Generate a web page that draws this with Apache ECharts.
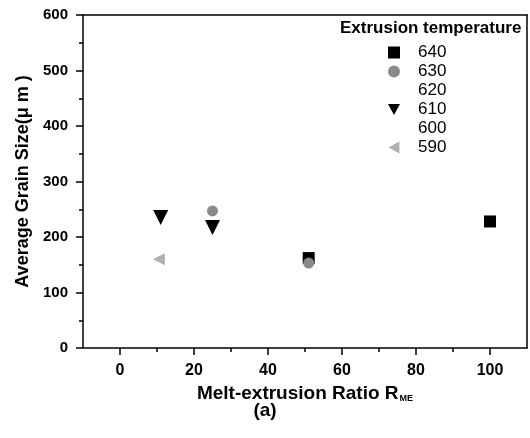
<!DOCTYPE html>
<html><head><meta charset="utf-8">
<script src="https://cdn.jsdelivr.net/npm/echarts@6/dist/echarts.min.js"></script>
<style>html,body{margin:0;padding:0;background:#fff}#c{width:530px;height:438px}</style>
</head><body><div id="c"></div>
<script>
const temps = ['640','630','620','610','600','590'];
const s640 = [[100,228],[51,162]];
const s630 = [[25,247],[51,153]];
const s620 = [];
const s610 = [[11,235],[25,217]];
const s600 = [];
const s590 = [[10.5,160]];
const xMajor = [0,20,40,60,80,100];
const xMinor = [10,30,50,70,90];

const F = 'Liberation Sans, Arial, sans-serif';
const DOWN = 'path://M0,0L10,0L5,9Z';
const LEFT = 'path://M9,0L9,10L0,5Z';
const chart = echarts.init(document.getElementById('c'));
function ser(name, data, symbol, size, color){
  return {name, type:'scatter', data, symbol, symbolSize:size,
    itemStyle:{color, opacity:1}, xAxisIndex:0, yAxisIndex:0};
}
const icons = {'640':'rect','630':'circle','620':'circle','610':DOWN,'600':'circle','590':LEFT};
chart.setOption({
  animation:false,
  grid:{left:83, right:3, top:15, bottom:90, containLabel:false},
  graphic:[
    {type:'text', left:'center', top:401, style:{text:'(a)', font:'bold 19px '+F, fill:'#000'}},
    {type:'text', left:340, top:20, style:{text:'Extrusion temperature', font:'bold 17px '+F, fill:'#000'}}
  ],
  legend:{orient:'vertical', left:383, top:39, itemWidth:12, itemHeight:12, itemGap:2,
    textStyle:{fontFamily:F, fontSize:17, lineHeight:17, color:'#000', padding:[0,0,0,13]},
    data:temps.map(t=>({name:t, icon:icons[t]}))},
  xAxis:[
    {type:'value', position:'bottom', min:-10, max:110,
     name:'{a|Melt-extrusion Ratio R}{s|ME}', nameLocation:'middle', nameGap:33,
     nameTextStyle:{rich:{a:{fontFamily:F, fontWeight:'bold', fontSize:19, color:'#000'},
                          s:{fontFamily:F, fontWeight:'bold', fontSize:9, color:'#000', verticalAlign:'bottom', padding:[10,0,0,1]}}},
     axisLine:{lineStyle:{color:'#000', width:1.5}},
     axisTick:{show:true, length:7, customValues:xMajor, lineStyle:{width:1.5, color:'#000'}},
     axisLabel:{customValues:xMajor, fontFamily:F, fontWeight:'bold', fontSize:16, color:'#000', margin:15},
     splitLine:{show:false}},
    {type:'value', position:'bottom', min:-10, max:110,
     axisLine:{show:false},
     axisTick:{show:true, length:4, customValues:xMinor, lineStyle:{width:1.5, color:'#000'}},
     axisLabel:{show:false}, splitLine:{show:false}},
    {type:'value', position:'top', min:-10, max:110,
     axisLine:{lineStyle:{color:'#000', width:1.5}}, axisTick:{show:false}, axisLabel:{show:false}, splitLine:{show:false}}
  ],
  yAxis:[
    {type:'value', position:'left', min:0, max:600, interval:100,
     name:'Average Grain Size(μ m )', nameLocation:'middle', nameGap:50,
     nameTextStyle:{fontFamily:F, fontWeight:'bold', fontSize:18, color:'#000'},
     axisLine:{onZero:false, lineStyle:{color:'#000', width:1.5}},
     axisTick:{show:true, length:7, lineStyle:{width:1.5, color:'#000'}},
     minorTick:{show:true, splitNumber:2, length:4, lineStyle:{width:1.5, color:'#000'}},
     axisLabel:{fontFamily:F, fontWeight:'bold', fontSize:15, color:'#000', margin:15},
     splitLine:{show:false}},
    {type:'value', position:'right', min:0, max:600,
     axisLine:{onZero:false, lineStyle:{color:'#000', width:1.5}}, axisTick:{show:false}, axisLabel:{show:false}, splitLine:{show:false}}
  ],
  series:[
    ser('640', s640, 'rect', 12, '#000'),
    ser('630', s630, 'circle', 11, '#8a8a8a'),
    ser('620', s620, 'circle', 11, 'rgba(0,0,0,0)'),
    ser('610', s610, DOWN, 15, '#000'),
    ser('600', s600, 'circle', 11, 'rgba(0,0,0,0)'),
    ser('590', s590, LEFT, 12, '#b0b0b0')
  ]
});
</script></body></html>
